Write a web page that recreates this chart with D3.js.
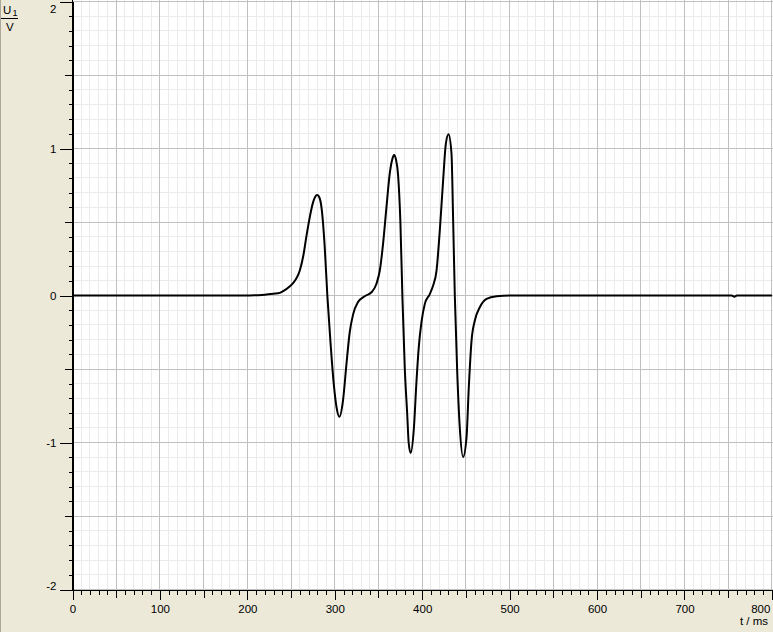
<!DOCTYPE html>
<html>
<head>
<meta charset="utf-8">
<script src="https://cdn.jsdelivr.net/npm/d3@7"></script>
<style>
  html, body { margin: 0; padding: 0; background: #ECE9D8; overflow: hidden; }
  svg { display: block; }
</style>
</head>
<body>
<svg id="chart"></svg>
<script>
const width = 773;
const height = 632;

// readings: time in ms, U1 in V
const timeMs = [0, 100, 200, 210, 220, 230, 237, 241, 248, 253, 256, 260, 264, 267.5, 271.3, 275, 277.5, 280, 282.5, 285,
  288.5, 291.5, 295, 298.8, 302, 305.3, 309.4, 313.3, 317.1, 320.9, 326.6, 334.3, 342, 347.7, 351.5, 355.2, 359.1,
  362.9, 365.5, 367.8, 370, 372.4, 375.1, 377.4, 380.1, 382.8, 384.5, 386.8, 390.4, 393.5, 396.1, 399.2, 403, 408.7,
  412.5, 416.4, 420.1, 423.9, 427, 430.1, 433.5, 435.4, 437.3, 440, 443, 446.8, 450.7, 453.3, 456.4, 460.2, 465.9,
  473.6, 485.1, 500, 600, 700, 754, 757, 760, 800];
const voltage = [0, 0, 0, 0.002, 0.005, 0.012, 0.018, 0.03, 0.06, 0.09, 0.115, 0.17, 0.27, 0.40, 0.53, 0.63, 0.67, 0.683, 0.665, 0.59,
  0.33, 0.0, -0.31, -0.60, -0.76, -0.825, -0.715, -0.47, -0.25, -0.13, -0.045, -0.005, 0.022, 0.08, 0.17, 0.35, 0.60,
  0.83, 0.92, 0.955, 0.925, 0.82, 0.49, -0.02, -0.50, -0.80, -1.0, -1.072, -0.91, -0.58, -0.35, -0.18, -0.057, 0.01,
  0.068, 0.17, 0.44, 0.78, 1.03, 1.097, 0.966, 0.51, 0.0, -0.51, -0.90, -1.098, -0.965, -0.625, -0.31, -0.17, -0.08,
  -0.023, -0.005, 0, 0, 0, 0, -0.008, 0, 0];

const xTickValues = [0, 100, 200, 300, 400, 500, 600, 700, 800];
const yTickValues = [-2, -1, 0, 1, 2];
const xDomain = [0, 800];
const yDomain = [-2, 2];

const svg = d3.select('#chart').attr('width', width).attr('height', height);

const x = d3.scaleLinear().domain(xDomain).range([72.5, 771.9]);
const y = d3.scaleLinear().domain(yDomain).range([589.5, 1.5]);

const snap = v => Math.round(v - 0.5) + 0.5;

// left window border
svg.append('line')
  .attr('x1', 0.5).attr('x2', 0.5).attr('y1', 0).attr('y2', height)
  .attr('stroke', '#ACA899');

// plot background
svg.append('rect')
  .attr('x', 73).attr('y', 0)
  .attr('width', width - 73).attr('height', 589)
  .attr('fill', '#fff');

// grid: minor every 10 ms / 0.1 V, major every 50 ms / 0.5 V
const grid = svg.append('g').attr('shape-rendering', 'crispEdges');
function vLines(vals, color) {
  grid.append('g').selectAll('line').data(vals).enter().append('line')
    .attr('x1', d => snap(x(d))).attr('x2', d => snap(x(d)))
    .attr('y1', 0).attr('y2', 589)
    .attr('stroke', color);
}
function hLines(vals, color) {
  grid.append('g').selectAll('line').data(vals).enter().append('line')
    .attr('x1', 73).attr('x2', width)
    .attr('y1', d => snap(y(d))).attr('y2', d => snap(y(d)))
    .attr('stroke', color);
}
vLines(x.ticks(80).filter(d => d > 0), '#EBEBEB');
hLines(y.ticks(40), '#EBEBEB');
vLines(x.ticks(16).filter(d => d > 0), '#C0C0C0');
hLines(y.ticks(8), '#C0C0C0');

// the trace
const line = d3.line()
  .x(d => x(d[0]))
  .y(d => y(d[1]))
  .curve(d3.curveMonotoneX);

svg.append('path')
  .datum(timeMs.map((t, i) => [t, voltage[i]]))
  .attr('d', line)
  .attr('fill', 'none')
  .attr('stroke', '#000')
  .attr('stroke-width', 2)
  .attr('stroke-linejoin', 'round');

// axes
const font = '"Liberation Sans", Arial, sans-serif';

function styleAxis(g) {
  g.attr('font-family', font).attr('font-size', 11.5).attr('shape-rendering', 'crispEdges');
  g.selectAll('text').attr('fill', '#000').attr('shape-rendering', null);
  g.selectAll('line, path').attr('stroke', '#000');
}

const xAxisG = svg.append('g').attr('transform', `translate(0,${y(-2)})`);
xAxisG.append('g').call(d3.axisBottom(x).tickValues(x.ticks(80)).tickSize(5).tickFormat('').tickSizeOuter(0)).call(styleAxis);
xAxisG.append('g').call(d3.axisBottom(x).tickValues(x.ticks(16)).tickSize(8).tickFormat('').tickSizeOuter(0)).call(styleAxis);
const xMajor = xAxisG.append('g')
  .call(d3.axisBottom(x).tickValues(xTickValues).tickSize(10).tickPadding(5.5).tickSizeOuter(0))
  .call(styleAxis);
xMajor.selectAll('.tick text').filter(d => d === 800)
  .attr('text-anchor', 'end').attr('x', -2);

const yAxisG = svg.append('g').attr('transform', `translate(${x(0)},0)`);
yAxisG.append('g').call(d3.axisLeft(y).tickValues(y.ticks(40)).tickSize(4).tickFormat('').tickSizeOuter(0)).call(styleAxis);
yAxisG.append('g').call(d3.axisLeft(y).tickValues(y.ticks(8)).tickSize(8).tickFormat('').tickSizeOuter(0)).call(styleAxis);
const yMajor = yAxisG.append('g')
  .call(d3.axisLeft(y).tickValues(yTickValues).tickSize(13).tickPadding(3).tickSizeOuter(0))
  .call(styleAxis);
yMajor.select('.domain').attr('d', `M0,0V${y(-2)}`);
yMajor.selectAll('.tick text').filter(d => d === 2).attr('y', 7);
yMajor.selectAll('.tick text').filter(d => d === -2).attr('y', -4);
yMajor.selectAll('.tick text').text(d => d < 0 ? '-' + Math.abs(d) : d);

// axis titles
svg.append('text')
  .attr('x', 768).attr('y', 625)
  .attr('text-anchor', 'end')
  .attr('font-family', font).attr('font-size', 11.5)
  .text('t / ms');

const yTitle = svg.append('g').attr('font-family', font).attr('font-size', 11.5);
yTitle.append('text').attr('x', 3).attr('y', 14).text('U');
yTitle.append('text').attr('x', 12.5).attr('y', 16).attr('font-size', 9).text('1');
yTitle.append('line')
  .attr('x1', 1).attr('x2', 18).attr('y1', 18.5).attr('y2', 18.5)
  .attr('stroke', '#000').attr('shape-rendering', 'crispEdges');
yTitle.append('text').attr('x', 6).attr('y', 31).text('V');
</script>
</body>
</html>
